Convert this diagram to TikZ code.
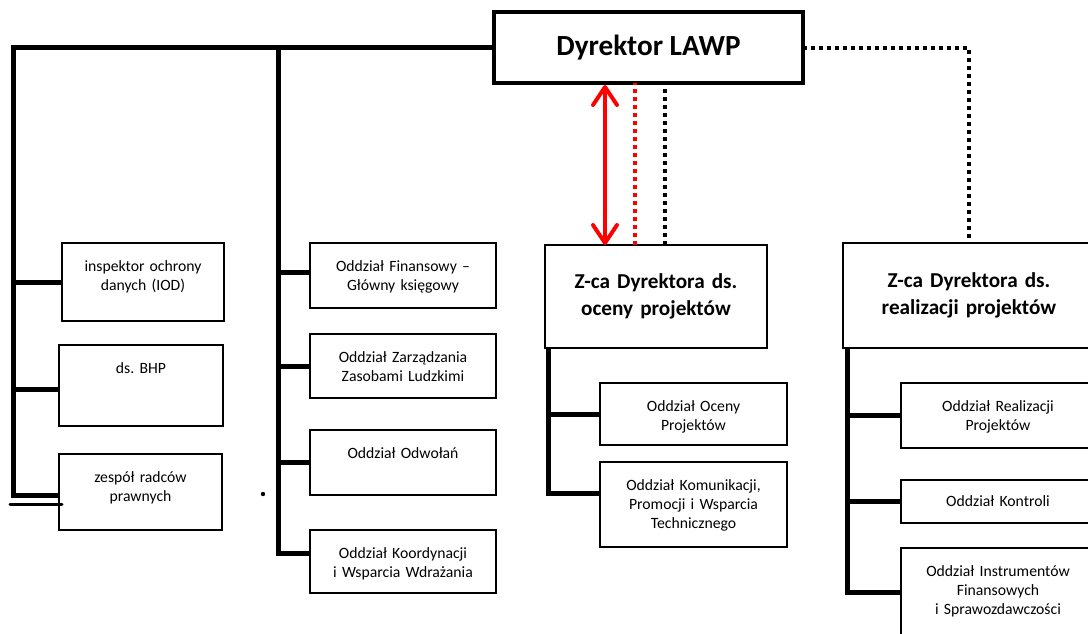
\documentclass[tikz,border=0pt]{standalone}
\usepackage{fontspec}
\setmainfont{Carlito}
\usetikzlibrary{arrows.meta}
\frenchspacing

\begin{document}
\begin{tikzpicture}
    [
        x=1pt, y=-1pt,
        unit/.style={draw=black, line width=2.3pt, inner sep=0pt, outer sep=0pt, anchor=north west, align=center, text height=28pt, font=\fontsize{15.7}{19.2}\selectfont},
        deputy/.style={draw=black, line width=2.6pt, inner sep=0pt, outer sep=0pt, anchor=north west, align=center, font=\fontsize{21.2}{26.5}\selectfont\bfseries},
        head/.style={draw=black, line width=4pt, inner sep=0pt, outer sep=0pt, anchor=north west, minimum width=309pt, minimum height=71pt, font=\fontsize{29.2}{35}\selectfont\bfseries},
        link/.style={line width=5pt},
        black_dots/.style={line width=4pt, dash pattern=on 4pt off 4pt},
        red_dots/.style={line width=3.5pt, color=red, dash pattern=on 4pt off 4pt},
        red_arrow/.style={line width=4pt, color=red, >={Straight Barb[length=18pt, width=24pt, round]}, <->, shorten <=2pt},
    ]
        \useasboundingbox (0,0) rectangle (1088,633) ;
        \clip (0,0) rectangle (1088,633) ;
        \node[head] (dyr) at (494,12) {Dyrektor LAWP} ;
        \node[unit, text width=162pt, text depth=50pt] (iod) at (62,243) {inspektor ochrony\\danych (IOD)} ;
        \node[unit, text width=164pt, text depth=53pt] (bhp) at (59,345) {ds. BHP} ;
        \node[unit, text width=163pt, text depth=48pt] (zrp) at (59,454) {zespół radców\\prawnych} ;
        \node[unit, text width=186pt, text depth=37pt] (fin) at (310,243) {Oddział Finansowy –\\Główny księgowy} ;
        \node[unit, text width=186pt, text depth=36pt] (zzl) at (310,334) {Oddział Zarządzania\\Zasobami Ludzkimi} ;
        \node[unit, text width=186pt, text depth=37pt] (odw) at (310,430) {Oddział Odwołań} ;
        \node[unit, text width=186pt, text depth=35pt] (kor) at (310,530) {Oddział Koordynacji\\i Wsparcia Wdrażania} ;
        \node[deputy, text width=222pt, minimum height=103pt] (zoc) at (545,245) {Z-ca Dyrektora ds.\\oceny projektów} ;
        \node[unit, text width=187pt, text depth=34pt] (ocp) at (600,383) {Oddział Oceny\\Projektów} ;
        \node[unit, text width=187pt, text depth=57pt] (kom) at (600,462) {Oddział Komunikacji,\\Promocji i Wsparcia\\Technicznego} ;
        \node[deputy, text width=252pt, minimum height=105pt] (zrl) at (843,243) {Z-ca Dyrektora ds.\\realizacji projektów} ;
        \node[unit, text width=194pt, text depth=37pt] (rlz) at (901,383) {Oddział Realizacji\\Projektów} ;
        \node[unit, text width=194pt, text height=26pt, text depth=17pt] (knt) at (901,480) {Oddział Kontroli} ;
        \node[unit, text width=194pt, text depth=67pt] (ifs) at (901,548) {Oddział Instrumentów\\Finansowych\\i Sprawozdawczości} ;
        \coordinate (ltop) at (13,47) ;
        \coordinate (mtop) at (278,47) ;
        \draw[link] (dyr.west) -| ([yshift=-3pt]zrp.west -| ltop) -- ([yshift=-3pt]zrp.west) ;
        \draw[link] (ltop |- iod.west) -- (iod.west) ;
        \draw[link] ([yshift=-4pt]ltop |- bhp.west) -- ([yshift=-4pt]bhp.west) ;
        \draw[link] (mtop) |- ([yshift=8pt]kor.west) ;
        \draw[link] ([yshift=3pt]mtop |- fin.west) -- ([yshift=3pt]fin.west) ;
        \draw[link] (mtop |- zzl.west) -- (zzl.west) ;
        \draw[link] (mtop |- odw.west) -- (odw.west) ;
        \draw[link] ([xshift=3pt]zoc.south west) |- ([yshift=11pt]kom.west) ;
        \draw[link] ([xshift=3pt]zoc.south west |- ocp.west) -- (ocp.west) ;
        \draw[link] ([xshift=4pt]zrl.south west) |- ([yshift=3pt]ifs.west) ;
        \draw[link] ([xshift=4pt]zrl.south west |- rlz.west) -- (rlz.west) ;
        \draw[link] ([xshift=4pt]zrl.south west |- knt.west) -- (knt.west) ;
        \draw[black_dots] (dyr.east) -| (zrl.north) ;
        \draw[black_dots] ([xshift=9pt]zoc.north) -- ([xshift=9pt]zoc.north |- dyr.south) ;
        \draw[red_dots] ([xshift=-21pt]zoc.north) -- ([xshift=-21pt]zoc.north |- dyr.south) ;
        \draw[red_arrow] ([xshift=-51pt]zoc.north |- dyr.south) -- ([xshift=-51pt]zoc.north) ;
        \coordinate (nick_a) at (10,504) ;
        \coordinate (nick_b) at (62,504) ;
        \draw[line width=3pt, line cap=round] (nick_a) -- (nick_b) ;
        \coordinate (speck) at (263,494) ;
        \fill (speck) circle (2.2pt) ;
    \end{tikzpicture}
\end{document}
